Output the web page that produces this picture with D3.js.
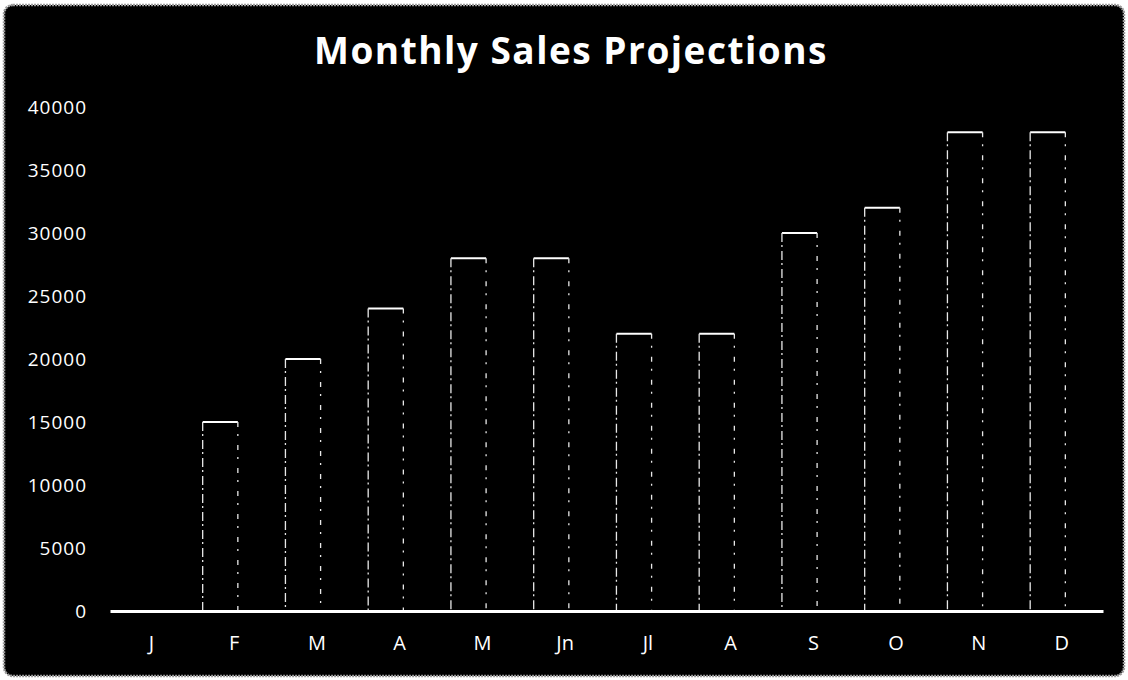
<!DOCTYPE html>
<html>
<head>
<meta charset="utf-8">
<script src="https://cdn.jsdelivr.net/npm/d3@7"></script>
<style>
  body { margin: 0; background: #fff; }
  svg { display: block; }
</style>
</head>
<body>
<div id="chart"></div>
<script>
// data
var months = ["J", "F", "M", "A", "M", "Jn", "Jl", "A", "S", "O", "N", "D"];
var sales = [0, 15000, 20000, 24000, 28000, 28000, 22000, 22000, 30000, 32000, 38000, 38000];
var yTicks = [0, 5000, 10000, 15000, 20000, 25000, 30000, 35000, 40000];

var width = 1128, height = 680;
var margin = {top: 107, right: 25, bottom: 69, left: 110};

var svg = d3.select("#chart").append("svg")
    .attr("width", width)
    .attr("height", height);

// black card with a rough grey edge (scanned look)
svg.append("rect")
    .attr("x", 4).attr("y", 5)
    .attr("width", width - 8).attr("height", height - 9)
    .attr("rx", 9)
    .style("fill", "#000")
    .style("stroke", "#9a9a9a")
    .style("stroke-width", 2.5)
    .style("stroke-dasharray", "2,1");

svg.append("text")
    .attr("x", 571)
    .attr("y", 64)
    .attr("text-anchor", "middle")
    .text("Monthly Sales Projections")
    .style("fill", "#fff")
    .style("font-family", "Open Sans, sans-serif")
    .style("font-weight", "bold")
    .style("letter-spacing", "1.5px")
    .style("font-size", "37px");

var x = d3.scaleBand()
    .domain(d3.range(months.length))
    .range([margin.left, width - margin.right]);

var y = d3.scaleLinear()
    .domain([0, 40000])
    .range([height - margin.bottom - 0, margin.top]);

// y axis: labels only
var yAxis = svg.append("g")
    .attr("transform", "translate(87,0)")
    .call(d3.axisLeft(y).tickValues(yTicks).tickSize(0).tickPadding(0).tickFormat(d3.format("d")));
yAxis.select(".domain").remove();
yAxis.selectAll("text")
    .style("fill", "#fff")
    .style("font-family", "Open Sans, sans-serif")
    .style("letter-spacing", "1px")
    .style("font-size", "19px");

// bars: solid top, broken sides
var bw = x.bandwidth();
var bars = svg.append("g").selectAll("g")
    .data(sales.map(function(v, i) { return {i: i, v: v}; }).filter(function(d) { return d.v > 0; }))
    .enter().append("g");

bars.append("rect")
    .attr("x", function(d) { return x(d.i) + bw * 0.12; })
    .attr("y", function(d) { return y(d.v); })
    .attr("width", bw * 0.425)
    .attr("height", function(d) { return y(0) - y(d.v); })
    .style("fill", "#000");

bars.append("line")
    .attr("x1", function(d) { return x(d.i) + bw * 0.12; })
    .attr("x2", function(d) { return x(d.i) + bw * 0.545; })
    .attr("y1", function(d) { return y(d.v); })
    .attr("y2", function(d) { return y(d.v); })
    .style("stroke", "#fff")
    .style("stroke-width", 2);

[0.12, 0.545].forEach(function(f, k) {
    bars.append("line")
        .attr("x1", function(d) { return x(d.i) + bw * f; })
        .attr("x2", function(d) { return x(d.i) + bw * f; })
        .attr("y1", function(d) { return y(d.v); })
        .attr("y2", y(0))
        .style("stroke", "#e8e8e8")
        .style("stroke-width", 1.3)
        .style("stroke-dasharray", k == 0 ? "9,3,2,4" : "5,7,2,9");
});

// x axis
var xAxis = svg.append("g")
    .attr("transform", "translate(0," + y(0) + ")")
    .call(d3.axisBottom(x).tickSize(0).tickPadding(25).tickFormat(function(i) { return months[i]; }));
xAxis.select(".domain")
    .style("stroke", "#fff")
    .style("stroke-width", 3);
xAxis.selectAll("text")
    .style("fill", "#fff")
    .style("font-family", "Open Sans, sans-serif")
    .style("font-size", "20px");
</script>
</body>
</html>
